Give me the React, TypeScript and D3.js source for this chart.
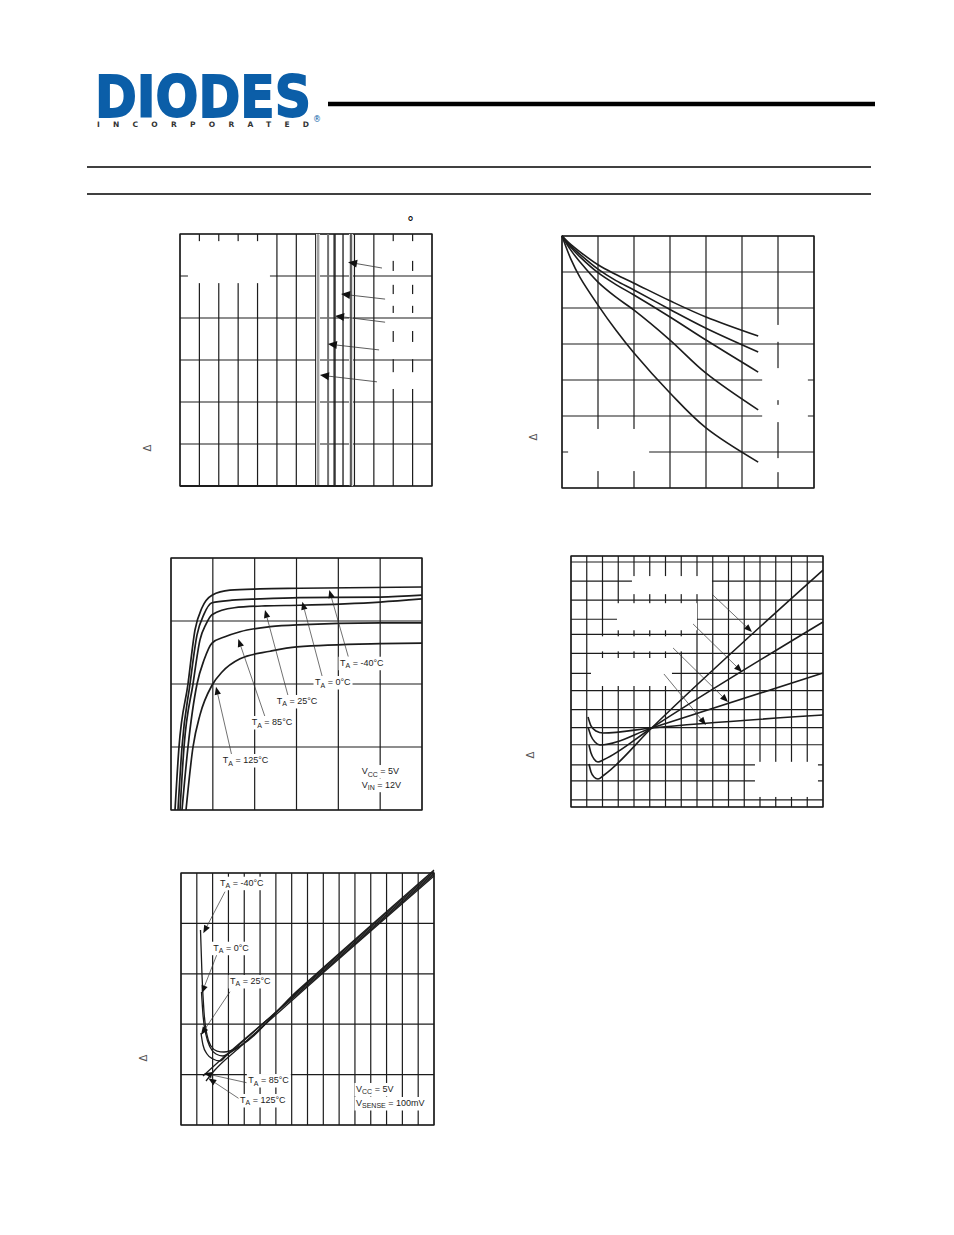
import { useEffect, useRef } from 'react'
import * as d3 from 'd3'

type Pt = [number, number]
type Box = [number, number, number, number] // x0, y0, x1, y1 in data units
type Arrow = [number, number, number, number] // tail x,y -> tip x,y
type Label = [number, number, string, string, string] // x, y, main, subscript, rest

const INK = '#1c1c1c'
const BLUE = '#0b5ea8'
const FONT = '"Liberation Sans", Arial, sans-serif'

// ---------- panel A (top left): step curves
const aGridX = [0, 1, 2, 3, 4, 5, 6, 7, 8, 9, 10, 11, 12, 13]
const aGridY = [0, 1, 2, 3, 4, 5, 6]
const aThresholds = [7.12, 7.64, 7.95, 8.41, 8.82]
const aColors = ['#a0a0a0', '#707070', '#1c1c1c', '#1c1c1c', '#1c1c1c']
const aArrows: Arrow[] = [
  [10.42, 5.19, 8.67, 5.33],
  [10.58, 4.45, 8.31, 4.57],
  [10.58, 3.9, 8.0, 4.05],
  [10.27, 3.24, 7.63, 3.38],
  [10.16, 2.48, 7.22, 2.64],
]
const aMasksBack: Box[] = [
  [10.52, 5.36, 12.79, 5.83],
  [10.52, 4.79, 12.79, 5.12],
  [10.52, 4.29, 12.79, 4.57],
  [10.52, 3.69, 12.79, 4.12],
  [10.52, 3.02, 12.79, 3.43],
  [10.52, 2.31, 12.79, 2.71],
]
const aMasksFront: Box[] = [[0.41, 4.83, 4.64, 5.83]]

// ---------- panel B (top right): decaying curves
const bGridX = [0, 1, 2, 3, 4, 5, 6, 7]
const bGridY = [0, 1, 2, 3, 4, 5, 6, 7]
const bX = [0, 0.25, 0.5, 1, 1.5, 2, 3, 4, 5.45]
const bCurves = [
  [7, 6.76, 6.56, 6.2, 5.93, 5.69, 5.2, 4.75, 4.22],
  [7, 6.72, 6.49, 6.08, 5.76, 5.5, 4.96, 4.44, 3.78],
  [7, 6.68, 6.42, 5.98, 5.65, 5.36, 4.75, 4.11, 3.22],
  [7, 6.6, 6.28, 5.72, 5.3, 4.94, 4.11, 3.19, 2.17],
  [7, 6.35, 5.85, 5.08, 4.38, 3.75, 2.64, 1.67, 0.72],
]
const bMasks: Box[] = [
  [0.17, 0.47, 2.42, 1.64],
  [5.56, 4.06, 6.83, 4.53],
  [5.56, 2.44, 6.83, 3.33],
  [5.56, 1.83, 6.83, 2.31],
  [5.56, 0.44, 6.83, 0.83],
]

// ---------- panel C (middle left): saturation curves
const cGridX = [0, 10, 20, 30, 40, 50, 60]
const cGridY = [0, 100, 200, 300, 400]
const cMinus40: Pt[] = [[0.96, 0], [1.91, 100], [4.06, 200], [5.74, 286], [7.41, 321], [9.8, 341], [14.1, 349], [21.3, 351], [30.8, 352], [60, 354]]
const cZero: Pt[] = [[1.67, 0], [2.63, 100], [4.54, 200], [6.22, 278], [7.89, 311], [9.8, 329], [14.6, 333], [21.3, 335], [30.8, 337], [50, 338], [60, 341]]
const c25: Pt[] = [[2.15, 0], [3.11, 100], [5.26, 200], [6.93, 270], [8.37, 295], [9.8, 310], [15.1, 321], [22.5, 324], [30.8, 325], [50, 330], [60, 335]]
const c85: Pt[] = [[2.63, 0], [4.06, 100], [6.22, 200], [7.89, 238], [9.8, 265], [12.9, 275], [16.5, 283], [23.7, 291], [30.1, 294], [50, 297], [60, 297]]
const c125: Pt[] = [[3.59, 0], [5.26, 100], [6.93, 151], [9.8, 198], [12.2, 219], [16.5, 240], [23.7, 252], [30.1, 259], [50, 264], [60, 265]]
const cArrows: Arrow[] = [
  [42.38, 243.3, 37.84, 349.2],
  [36.26, 209.0, 31.39, 330.6],
  [28.04, 179.8, 22.47, 317.5],
  [22.47, 148.1, 16.09, 271.4],
  [14.51, 87.3, 10.76, 195.7],
]
const cLabels: Label[] = [
  [40.4, 229.0, 'T', 'A', ' = -40°C'],
  [34.42, 198.4, 'T', 'A', ' = 0°C'],
  [25.27, 168.3, 'T', 'A', ' = 25°C'],
  [19.29, 134.9, 'T', 'A', ' = 85°C'],
  [12.36, 74.6, 'T', 'A', ' = 125°C'],
  [45.59, 57.1, 'V', 'CC', ' = 5V'],
  [45.59, 35.4, 'V', 'IN', ' = 12V'],
]

// ---------- panel D (middle right): crossing lines
const dGridX = [0, 1, 2, 3, 4, 5, 6, 7, 8, 9, 10, 11, 12, 13, 14, 15, 16]
const dGridY = [0, 0.7, 2.6, 4.2, 6.2, 7.9, 9.7, 11.6, 13.3, 15.3, 17.2, 18.7, 20.6, 22.5, 24.4, 25]
const dCurve1: Pt[] = [[1.08, 8.96], [1.27, 8.07], [1.59, 7.57], [2.03, 7.37], [5.12, 7.87], [16, 9.16]]
const dCurve2: Pt[] = [[1.08, 7.97], [1.27, 7.07], [1.52, 6.47], [1.84, 6.18], [5.12, 7.87], [16, 13.35]]
const dCurve3: Pt[] = [[1.14, 6.18], [1.27, 5.38], [1.46, 4.78], [1.71, 4.48], [2.1, 4.73], [5.12, 7.87], [16, 18.43]]
const dCurve4: Pt[] = [[1.14, 4.28], [1.27, 3.49], [1.46, 2.99], [1.71, 2.79], [2.1, 3.19], [5.12, 7.87], [16, 23.6]]
const dArrows: Arrow[] = [
  [8.95, 21.2, 11.49, 17.43],
  [7.75, 18.23, 10.86, 13.45],
  [6.48, 15.84, 9.97, 10.46],
  [5.9, 13.25, 8.57, 8.17],
]
const dMasks: Box[] = [
  [3.87, 21.2, 8.95, 23.0],
  [2.92, 17.6, 8.0, 20.3],
  [1.21, 15.5, 7.11, 17.0],
  [1.27, 12.05, 6.41, 14.84],
  [11.68, 1.0, 15.68, 4.5],
]

// ---------- panel E (bottom left): hooks into a common line
const eGridX = [0, 1, 2, 3, 4, 5, 6, 7, 8, 9, 10, 11, 12, 13, 14, 15, 16]
const eGridY = [0, 1, 2, 3, 4, 5]
const eMinus40: Pt[] = [[1.233, 3.869], [1.328, 2.976], [1.455, 2.242], [1.644, 1.786], [1.897, 1.567], [2.277, 1.468], [2.719, 1.448], [3.225, 1.488], [7.336, 2.659], [16, 5.06]]
const eZero: Pt[] = [[1.296, 2.639], [1.391, 2.183], [1.581, 1.786], [1.834, 1.548], [2.213, 1.409], [2.656, 1.369], [3.099, 1.437], [7.336, 2.639], [16, 5.03]]
const e25: Pt[] = [[1.265, 1.825], [1.391, 1.587], [1.644, 1.409], [2.024, 1.31], [2.466, 1.27], [2.846, 1.369], [7.336, 2.619], [16, 5.0]]
const e85: Pt[] = [[1.391, 0.972], [2.15, 1.19], [7.336, 2.589], [16, 4.97]]
const e125: Pt[] = [[1.581, 0.873], [2.087, 1.071], [3.731, 1.548], [7.336, 2.56], [16, 4.94]]
const eArrows: Arrow[] = [
  [2.783, 4.629, 1.41, 3.804],
  [2.258, 3.373, 1.309, 2.613],
  [3.099, 2.645, 1.265, 1.786],
  [4.155, 0.839, 1.455, 1.026],
  [3.731, 0.51, 1.727, 0.927],
]
const eLabels: Label[] = [
  [2.466, 4.748, 'T', 'A', ' = -40°C'],
  [2.043, 3.458, 'T', 'A', ' = 0°C'],
  [3.099, 2.798, 'T', 'A', ' = 25°C'],
  [4.256, 0.833, 'T', 'A', ' = 85°C'],
  [3.731, 0.437, 'T', 'A', ' = 125°C'],
  [11.067, 0.655, 'V', 'CC', ' = 5V'],
  [11.067, 0.377, 'V', 'SENSE', ' = 100mV'],
]

type Sel = d3.Selection<any, unknown, null, undefined>
type Scale = d3.ScaleLinear<number, number>

function panel(svg: Sel, left: number, top: number, w: number, h: number, xDom: number[], yDom: number[]) {
  const x = d3.scaleLinear().domain(xDom).range([left, left + w])
  const y = d3.scaleLinear().domain(yDom).range([top + h, top])
  const g = svg.append('g')
  return { g, x, y }
}

function masks(g: Sel, x: Scale, y: Scale, boxes: Box[]) {
  g.append('g')
    .selectAll('rect')
    .data(boxes)
    .join('rect')
    .attr('x', d => x(d[0]))
    .attr('y', d => y(d[3]))
    .attr('width', d => x(d[2]) - x(d[0]))
    .attr('height', d => y(d[1]) - y(d[3]))
    .attr('fill', '#fff')
}

function grid(g: Sel, x: Scale, y: Scale, xs: number[], ys: number[], back: Box[], front: Box[]) {
  const [yb, yt] = y.range()
  const [xl, xr] = x.range()
  g.append('g')
    .selectAll('line')
    .data(xs)
    .join('line')
    .attr('x1', d => x(d))
    .attr('x2', d => x(d))
    .attr('y1', yb)
    .attr('y2', yt)
    .attr('stroke', INK)
    .attr('stroke-width', 1.2)
  masks(g, x, y, back)
  g.append('g')
    .selectAll('line')
    .data(ys)
    .join('line')
    .attr('x1', xl)
    .attr('x2', xr)
    .attr('y1', d => y(d))
    .attr('y2', d => y(d))
    .attr('stroke', INK)
    .attr('stroke-width', 1.2)
  masks(g, x, y, front)
  g.append('rect')
    .attr('x', xl)
    .attr('y', yt)
    .attr('width', xr - xl)
    .attr('height', yb - yt)
    .attr('fill', 'none')
    .attr('stroke', INK)
    .attr('stroke-width', 1.3)
}

function curve(g: Sel, x: Scale, y: Scale, pts: Pt[], width = 1.7, color = INK, kind: d3.CurveFactory = d3.curveMonotoneX) {
  const line = d3
    .line<Pt>()
    .x(d => x(d[0]))
    .y(d => y(d[1]))
    .curve(kind)
  g.append('path')
    .attr('d', line(pts))
    .attr('fill', 'none')
    .attr('stroke', color)
    .attr('stroke-width', width)
    .attr('stroke-linejoin', 'round')
}

function arrows(g: Sel, x: Scale, y: Scale, list: Arrow[], width = 0.7, L = 8, W = 3.2) {
  list.forEach(([tx, ty, hx, hy]) => {
    const x1 = x(tx), y1 = y(ty), x2 = x(hx), y2 = y(hy)
    const a = Math.atan2(y2 - y1, x2 - x1)
    const bx = x2 - L * Math.cos(a), by = y2 - L * Math.sin(a)
    g.append('line')
      .attr('x1', x1).attr('y1', y1).attr('x2', bx).attr('y2', by)
      .attr('stroke', '#333').attr('stroke-width', width)
    g.append('path')
      .attr('d', `M${x2},${y2}L${bx + W * Math.sin(a)},${by - W * Math.cos(a)}L${bx - W * Math.sin(a)},${by + W * Math.cos(a)}Z`)
      .attr('fill', '#111')
  })
}

function labels(g: Sel, x: Scale, y: Scale, list: Label[]) {
  list.forEach(([lx, ly, main, sub, rest]) => {
    const t = g.append('text')
      .attr('x', x(lx))
      .attr('y', y(ly))
      .attr('font-family', FONT)
      .attr('font-size', 9)
      .attr('fill', INK)
    t.append('tspan').text(main)
    t.append('tspan').attr('dy', 2.5).attr('font-size', 7).text(sub)
    t.append('tspan').attr('dy', -2.5).text(rest)
    const bb = (t.node() as SVGTextElement).getBBox()
    g.insert('rect', () => t.node())
      .attr('x', bb.x - 1.5)
      .attr('y', bb.y - 1)
      .attr('width', bb.width + 3)
      .attr('height', bb.height + 2)
      .attr('fill', '#fff')
  })
}

function delta(svg: Sel, px: number, py: number) {
  svg.append('text')
    .attr('transform', `translate(${px},${py}) rotate(-90)`)
    .attr('text-anchor', 'middle')
    .attr('dominant-baseline', 'central')
    .attr('font-family', 'DejaVu Sans')
    .attr('font-size', 10)
    .attr('fill', '#555')
    .text('Δ')
}

export default function App() {
  const svgRef = useRef<SVGSVGElement>(null)

  useEffect(() => {
    if (!svgRef.current) return
    const svg = d3.select(svgRef.current) as Sel
    svg.selectAll('*').remove()
    svg.append('rect').attr('width', 954).attr('height', 1235).attr('fill', '#fff')

    // header
    const hd = svg.append('g')
    hd.append('text')
      .attr('x', 95).attr('y', 117)
      .attr('font-family', '"DejaVu Sans"').attr('font-weight', 'bold')
      .attr('font-size', 57).attr('textLength', 216).attr('lengthAdjust', 'spacingAndGlyphs')
      .attr('fill', BLUE).attr('stroke', BLUE).attr('stroke-width', 1.8)
      .text('DIODES')
    hd.append('text')
      .attr('x', 97).attr('y', 127)
      .attr('font-family', '"DejaVu Sans"').attr('font-weight', 'bold')
      .attr('font-size', 7.5).attr('textLength', 212).attr('lengthAdjust', 'spacing')
      .attr('fill', '#333').text('INCORPORATED')
    hd.append('text')
      .attr('x', 313).attr('y', 122)
      .attr('font-family', '"DejaVu Sans"').attr('font-size', 8)
      .attr('fill', BLUE).text('®')
    hd.append('line').attr('x1', 328).attr('x2', 875).attr('y1', 104).attr('y2', 104)
      .attr('stroke', '#000').attr('stroke-width', 4.5)
    ;[167, 194].forEach(ry => {
      hd.append('line').attr('x1', 87).attr('x2', 871).attr('y1', ry).attr('y2', ry)
        .attr('stroke', '#000').attr('stroke-width', 1.6)
    })
    hd.append('text').attr('x', 407).attr('y', 227)
      .attr('font-family', '"DejaVu Sans"').attr('font-size', 14).attr('fill', '#000').text('°')

    // panel A
    {
      const { g, x, y } = panel(svg, 180, 234, 252, 252, [0, 13], [0, 6])
      grid(g, x, y, aGridX, aGridY, aMasksBack, aMasksFront)
      // light halos of the outer curves
      ;[aThresholds[0], aThresholds[4]].forEach(t =>
        curve(g, x, y, [[t, 0], [t, 6]], 4, '#dcdcdc', d3.curveLinear))
      aThresholds.forEach((t, i) =>
        curve(g, x, y, [[0, 0], [t, 0], [t, 6]], i < 2 ? 2 : 1.3, aColors[i], d3.curveLinear))
      arrows(g, x, y, aArrows, 0.8, 9, 4)
      delta(svg, 147, 448)
    }

    // panel B
    {
      const { g, x, y } = panel(svg, 562, 236, 252, 252, [0, 7], [0, 7])
      grid(g, x, y, bGridX, bGridY, [], bMasks)
      bCurves.forEach(c =>
        curve(g, x, y, c.map((v, i) => [bX[i], v] as Pt), 1.6, INK, d3.curveCatmullRom.alpha(0.5)))
      delta(svg, 533, 437)
    }

    // panel C
    {
      const { g, x, y } = panel(svg, 171, 558, 251, 252, [0, 60], [0, 400])
      grid(g, x, y, cGridX, cGridY, [], [])
      ;[cMinus40, cZero, c25, c85, c125].forEach(c => curve(g, x, y, c, 1.7))
      arrows(g, x, y, cArrows, 0.7)
      labels(g, x, y, cLabels)
    }

    // panel D
    {
      const { g, x, y } = panel(svg, 571, 556, 252, 251, [0, 16], [0, 25])
      grid(g, x, y, dGridX, dGridY, [], dMasks)
      ;[dCurve1, dCurve2, dCurve3, dCurve4].forEach(c => curve(g, x, y, c, 1.6))
      arrows(g, x, y, dArrows, 0.7)
      delta(svg, 530, 755)
    }

    // panel E
    {
      const { g, x, y } = panel(svg, 181, 873, 253, 252, [0, 16], [0, 5])
      grid(g, x, y, eGridX, eGridY, [], [])
      ;[eMinus40, eZero, e25, e85, e125].forEach(c => curve(g, x, y, c, 1.3))
      arrows(g, x, y, eArrows, 0.7)
      labels(g, x, y, eLabels)
      delta(svg, 143, 1058)
    }
  }, [])

  return (
    <svg
      ref={svgRef}
      width={954}
      height={1235}
      style={{ position: 'absolute', left: 0, top: 0, display: 'block' }}
    />
  )
}
